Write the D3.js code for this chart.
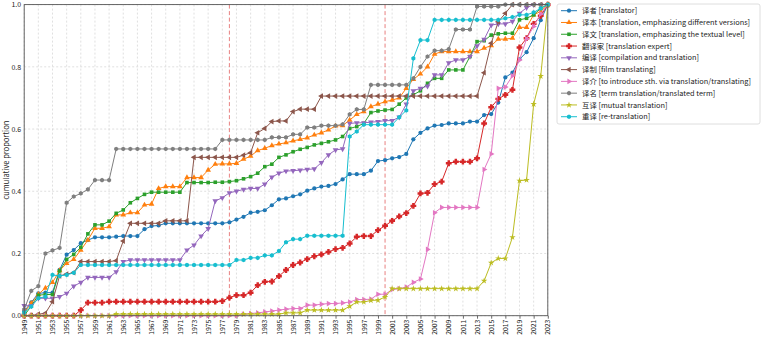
<!DOCTYPE html>
<html>
<head>
<meta charset="utf-8">
<script src="https://cdn.jsdelivr.net/npm/d3@7"></script>
<style>
  body { margin: 0; background: #fff; }
  text { font-family: "Noto Sans CJK SC", "Noto Sans", sans-serif; }
</style>
</head>
<body>
<div id="chart"></div>
<script>
// years on the x axis
var years = d3.range(1949, 2024);

var labels = [
  "译者 [translator]",
  "译本 [translation, emphasizing different versions]",
  "译文 [translation, emphasizing the textual level]",
  "翻译家 [translation expert]",
  "编译 [compilation and translation]",
  "译制 [film translating]",
  "译介 [to introduce sth. via translation/translating]",
  "译名 [term translation/translated term]",
  "互译 [mutual translation]",
  "重译 [re-translation]"
];

var colors = ["#1f77b4", "#ff7f0e", "#2ca02c", "#d62728", "#9467bd",
  "#8c564b", "#e377c2", "#7f7f7f", "#bcbd22", "#17becf"];

var markers = ["circle", "up", "square", "plus", "down", "left", "right", "hex", "star", "hex"];

// cumulative proportion, 1949 .. 2023
var yizhe = [0.014, 0.043, 0.072, 0.074, 0.074, 0.147, 0.196, 0.211, 0.233, 0.243,
  0.252, 0.252, 0.252, 0.254, 0.256, 0.256, 0.256, 0.278, 0.288, 0.29,
  0.297, 0.297, 0.297, 0.297, 0.297, 0.297, 0.297, 0.297, 0.297, 0.30,
  0.309, 0.318, 0.331, 0.334, 0.339, 0.355, 0.374, 0.377, 0.384, 0.39,
  0.402, 0.409, 0.415, 0.417, 0.423, 0.438, 0.455, 0.455, 0.455, 0.466,
  0.497, 0.50, 0.506, 0.51, 0.52, 0.567, 0.588, 0.602, 0.611, 0.613,
  0.618, 0.618, 0.618, 0.624, 0.624, 0.645, 0.648, 0.685, 0.766, 0.781,
  0.824, 0.847, 0.892, 0.95, 1.0];

var yiben = [0.01, 0.04, 0.069, 0.089, 0.107, 0.145, 0.168, 0.181, 0.211, 0.243,
  0.281, 0.281, 0.286, 0.324, 0.324, 0.331, 0.331, 0.356, 0.359, 0.409,
  0.415, 0.415, 0.415, 0.444, 0.444, 0.444, 0.468, 0.487, 0.488, 0.488,
  0.49, 0.503, 0.513, 0.531, 0.538, 0.547, 0.552, 0.556, 0.562, 0.567,
  0.572, 0.581, 0.588, 0.597, 0.61, 0.611, 0.629, 0.647, 0.656, 0.672,
  0.68, 0.688, 0.693, 0.70, 0.731, 0.76, 0.777, 0.80, 0.841, 0.849,
  0.849, 0.849, 0.849, 0.849, 0.849, 0.86, 0.868, 0.889, 0.889, 0.892,
  0.927, 0.927, 0.967, 0.978, 1.0];

var yiwen = [0.0, 0.031, 0.066, 0.068, 0.068, 0.144, 0.181, 0.197, 0.22, 0.263,
  0.292, 0.292, 0.304, 0.329, 0.34, 0.363, 0.377, 0.39, 0.397, 0.397,
  0.397, 0.397, 0.397, 0.428, 0.428, 0.428, 0.428, 0.429, 0.429, 0.431,
  0.434, 0.44, 0.447, 0.458, 0.479, 0.487, 0.509, 0.517, 0.527, 0.535,
  0.541, 0.549, 0.554, 0.559, 0.565, 0.576, 0.602, 0.608, 0.618, 0.653,
  0.658, 0.661, 0.663, 0.68, 0.70, 0.71, 0.723, 0.747, 0.763, 0.763,
  0.79, 0.79, 0.79, 0.833, 0.881, 0.884, 0.902, 0.906, 0.908, 0.908,
  0.951, 0.956, 0.967, 0.988, 1.0];

var fanyijia = [0, 0, 0, 0, 0, 0, 0, 0, 0.018, 0.042,
  0.042, 0.042, 0.045, 0.045, 0.045, 0.045, 0.045, 0.045, 0.045, 0.045,
  0.045, 0.045, 0.045, 0.045, 0.045, 0.045, 0.045, 0.045, 0.047, 0.058,
  0.066, 0.066, 0.074, 0.098, 0.109, 0.11, 0.127, 0.147, 0.163, 0.171,
  0.182, 0.191, 0.197, 0.205, 0.214, 0.218, 0.232, 0.254, 0.256, 0.256,
  0.275, 0.289, 0.305, 0.319, 0.33, 0.353, 0.393, 0.395, 0.423, 0.431,
  0.49, 0.495, 0.495, 0.495, 0.506, 0.618, 0.67, 0.697, 0.71, 0.726,
  0.862, 0.892, 0.938, 0.964, 1.0];

var bianyi = [0.032, 0.032, 0.056, 0.056, 0.056, 0.061, 0.072, 0.095, 0.107, 0.123,
  0.123, 0.123, 0.123, 0.141, 0.174, 0.179, 0.179, 0.179, 0.179, 0.179,
  0.179, 0.179, 0.179, 0.211, 0.227, 0.256, 0.28, 0.369, 0.379, 0.395,
  0.40, 0.406, 0.409, 0.409, 0.423, 0.445, 0.458, 0.465, 0.466, 0.468,
  0.47, 0.472, 0.492, 0.517, 0.533, 0.536, 0.618, 0.62, 0.62, 0.622,
  0.624, 0.627, 0.627, 0.638, 0.68, 0.723, 0.731, 0.738, 0.774, 0.774,
  0.813, 0.822, 0.822, 0.833, 0.867, 0.888, 0.934, 0.938, 0.938, 0.946,
  0.972, 0.99, 1.0, 1.0, 1.0];

var yizhi = [0, 0, 0.005, 0.008, 0.045, 0.128, 0.134, 0.138, 0.174, 0.174,
  0.174, 0.174, 0.174, 0.177, 0.24, 0.297, 0.297, 0.297, 0.297, 0.297,
  0.305, 0.305, 0.305, 0.305, 0.509, 0.509, 0.509, 0.509, 0.509, 0.509,
  0.509, 0.516, 0.524, 0.588, 0.602, 0.624, 0.626, 0.626, 0.656, 0.664,
  0.664, 0.664, 0.706, 0.706, 0.706, 0.706, 0.706, 0.706, 0.706, 0.706,
  0.706, 0.706, 0.706, 0.706, 0.706, 0.706, 0.706, 0.706, 0.706, 0.706,
  0.706, 0.706, 0.706, 0.706, 0.706, 0.781, 0.876, 0.945, 0.972, 1.0,
  1.0, 1.0, 1.0, 1.0, 1.0];

var yijie = [0, 0, 0, 0, 0, 0, 0, 0, 0, 0,
  0, 0, 0, 0, 0, 0, 0, 0, 0, 0,
  0, 0, 0, 0, 0, 0, 0, 0, 0, 0,
  0, 0.005, 0.007, 0.009, 0.012, 0.015, 0.018, 0.021, 0.023, 0.023,
  0.034, 0.034, 0.037, 0.039, 0.039, 0.041, 0.044, 0.052, 0.052, 0.053,
  0.069, 0.069, 0.084, 0.087, 0.092, 0.107, 0.118, 0.213, 0.331, 0.348,
  0.348, 0.348, 0.348, 0.348, 0.348, 0.47, 0.52, 0.731, 0.735, 0.771,
  0.822, 0.89, 0.93, 0.97, 1.0];

var yiming = [0.02, 0.08, 0.095, 0.20, 0.21, 0.218, 0.363, 0.383, 0.393, 0.406,
  0.436, 0.436, 0.436, 0.536, 0.536, 0.536, 0.536, 0.536, 0.536, 0.536,
  0.536, 0.536, 0.536, 0.536, 0.536, 0.536, 0.536, 0.536, 0.565, 0.565,
  0.565, 0.565, 0.565, 0.565, 0.565, 0.573, 0.573, 0.573, 0.583, 0.583,
  0.605, 0.605, 0.611, 0.611, 0.611, 0.615, 0.647, 0.663, 0.663, 0.742,
  0.742, 0.742, 0.742, 0.742, 0.742, 0.763, 0.80, 0.833, 0.852, 0.852,
  0.857, 0.92, 0.92, 0.92, 0.994, 0.994, 0.994, 0.994, 1.0, 1.0,
  1.0, 1.0, 1.0, 1.0, 1.0];

var huyi = [0, 0, 0, 0, 0, 0, 0, 0, 0, 0,
  0, 0, 0, 0.005, 0.005, 0.005, 0.005, 0.005, 0.005, 0.005,
  0.005, 0.005, 0.005, 0.005, 0.005, 0.005, 0.005, 0.005, 0.005, 0.005,
  0.005, 0.005, 0.005, 0.005, 0.005, 0.005, 0.005, 0.009, 0.009, 0.009,
  0.018, 0.018, 0.018, 0.018, 0.018, 0.018, 0.03, 0.044, 0.044, 0.049,
  0.05, 0.06, 0.087, 0.087, 0.087, 0.087, 0.087, 0.087, 0.087, 0.087,
  0.087, 0.087, 0.087, 0.087, 0.087, 0.112, 0.17, 0.184, 0.184, 0.252,
  0.434, 0.436, 0.68, 0.77, 1.0];

var chongyi = [0.01, 0.029, 0.056, 0.061, 0.131, 0.128, 0.131, 0.138, 0.163, 0.163,
  0.163, 0.163, 0.163, 0.163, 0.163, 0.163, 0.163, 0.163, 0.163, 0.163,
  0.163, 0.163, 0.163, 0.163, 0.163, 0.163, 0.163, 0.163, 0.163, 0.163,
  0.179, 0.179, 0.186, 0.186, 0.194, 0.194, 0.208, 0.236, 0.246, 0.246,
  0.257, 0.257, 0.257, 0.257, 0.257, 0.257, 0.576, 0.592, 0.614, 0.614,
  0.614, 0.614, 0.614, 0.638, 0.66, 0.827, 0.886, 0.886, 0.951, 0.951,
  0.951, 0.951, 0.951, 0.951, 0.951, 0.951, 0.951, 0.951, 0.956, 0.96,
  0.967, 0.967, 0.975, 0.988, 1.0];

var seriesValues = [yizhe, yiben, yiwen, fanyijia, bianyi, yizhi, yijie, yiming, huyi, chongyi];

// dashed reference years
var markYears = [1978, 2000];

var width = 761, height = 337;
var pLeft = 24.2, pRight = 547.8, pTop = 4.6, pBottom = 315.7;

var svg = d3.select('#chart').append('svg')
  .attr('width', width)
  .attr('height', height);

var x = d3.scaleLinear().domain([1949, 2023]).range([pLeft, pRight]);
var y = d3.scaleLinear().domain([0, 1]).range([pBottom, pTop]);

var tickYears = d3.range(1949, 2024, 2);
var yTicks = [0, 0.2, 0.4, 0.6, 0.8, 1.0];

// grid
svg.append('g').selectAll('line').data(tickYears).enter().append('line')
  .attr('x1', function (d) { return x(d); })
  .attr('x2', function (d) { return x(d); })
  .attr('y1', pTop).attr('y2', pBottom)
  .attr('stroke', '#d2d2d2').attr('stroke-width', 0.7)
  .attr('stroke-dasharray', '2,2');

svg.append('g').selectAll('line').data(yTicks).enter().append('line')
  .attr('x1', pLeft).attr('x2', pRight)
  .attr('y1', function (d) { return y(d); })
  .attr('y2', function (d) { return y(d); })
  .attr('stroke', '#d2d2d2').attr('stroke-width', 0.7)
  .attr('stroke-dasharray', '2,2');

// reference lines
svg.append('g').selectAll('line').data(markYears).enter().append('line')
  .attr('x1', function (d) { return x(d); })
  .attr('x2', function (d) { return x(d); })
  .attr('y1', pTop).attr('y2', pBottom)
  .attr('stroke', '#e57373').attr('stroke-width', 0.9)
  .attr('stroke-dasharray', '4,2.5');

// axes
var xAxis = svg.append('g')
  .attr('transform', 'translate(0,' + pBottom + ')')
  .call(d3.axisBottom(x).tickValues(tickYears).tickFormat(d3.format('d')).tickSize(3));
xAxis.selectAll('text')
  .attr('transform', 'rotate(-90)')
  .attr('text-anchor', 'end')
  .attr('x', -4).attr('y', 0).attr('dy', '0.32em')
  .style('font-size', '6.8px').attr('fill', '#222');

var yAxis = svg.append('g')
  .attr('transform', 'translate(' + pLeft + ',0)')
  .call(d3.axisLeft(y).tickValues(yTicks).tickFormat(d3.format('.1f')).tickSize(0));
yAxis.selectAll('text').style('font-size', '7px').attr('x', -3).attr('fill', '#222');
svg.selectAll('.domain').remove();
svg.selectAll('.tick line').attr('stroke', '#444').attr('stroke-width', 0.8);

svg.append('text')
  .attr('transform', 'translate(9,' + ((pTop + pBottom) / 2) + ') rotate(-90)')
  .attr('text-anchor', 'middle')
  .style('font-size', '7.5px').attr('fill', '#222')
  .text('cumulative proportion');

// marker shapes
var hexagon = {
  draw: function (ctx, size) {
    var r = Math.sqrt(size / 2.598);
    for (var i = 0; i < 6; i++) {
      var a = Math.PI / 3 * i + Math.PI / 6;
      if (i === 0) ctx.moveTo(r * Math.cos(a), r * Math.sin(a));
      else ctx.lineTo(r * Math.cos(a), r * Math.sin(a));
    }
    ctx.closePath();
  }
};
var plusFilled = {
  draw: function (ctx, size) {
    var r = Math.sqrt(size) * 0.62, w = r * 0.42;
    ctx.moveTo(-w, -r); ctx.lineTo(w, -r); ctx.lineTo(w, -w); ctx.lineTo(r, -w);
    ctx.lineTo(r, w); ctx.lineTo(w, w); ctx.lineTo(w, r); ctx.lineTo(-w, r);
    ctx.lineTo(-w, w); ctx.lineTo(-r, w); ctx.lineTo(-r, -w); ctx.lineTo(-w, -w);
    ctx.closePath();
  }
};
var shapes = {
  circle: [d3.symbolCircle, 0, 14],
  up: [d3.symbolTriangle, 0, 14],
  square: [d3.symbolSquare, 0, 13],
  plus: [plusFilled, 0, 22],
  down: [d3.symbolTriangle, 180, 14],
  left: [d3.symbolTriangle, -90, 14],
  right: [d3.symbolTriangle, 90, 14],
  hex: [hexagon, 0, 14],
  star: [d3.symbolStar, 0, 13]
};

function drawMarker(g, kind, color, px, py) {
  var s = shapes[kind];
  g.append('path')
    .attr('d', d3.symbol().type(s[0]).size(s[2])())
    .attr('transform', 'translate(' + px + ',' + py + ') rotate(' + s[1] + ')')
    .attr('fill', color);
}

var line = d3.line()
  .x(function (d, i) { return x(years[i]); })
  .y(function (d) { return y(d); });

var plot = svg.append('g');
seriesValues.forEach(function (vals, k) {
  var g = plot.append('g');
  g.append('path')
    .attr('d', line(vals))
    .attr('fill', 'none')
    .attr('stroke', colors[k])
    .attr('stroke-width', 1);
  vals.forEach(function (v, i) {
    drawMarker(g, markers[k], colors[k], x(years[i]), y(v));
  });
});

// frame
svg.append('rect')
  .attr('x', pLeft).attr('y', pTop)
  .attr('width', pRight - pLeft).attr('height', pBottom - pTop)
  .attr('fill', 'none').attr('stroke', '#555').attr('stroke-width', 0.9);

// legend
var lg = svg.append('g');
lg.append('rect')
  .attr('x', 557).attr('y', 4).attr('width', 203).attr('height', 120)
  .attr('rx', 2)
  .attr('fill', '#fff').attr('stroke', '#d5d5d5').attr('stroke-width', 0.8);
labels.forEach(function (name, k) {
  var ly = 10.7 + k * 11.78;
  lg.append('line')
    .attr('x1', 561).attr('x2', 577)
    .attr('y1', ly).attr('y2', ly)
    .attr('stroke', colors[k]).attr('stroke-width', 1);
  drawMarker(lg, markers[k], colors[k], 569, ly);
  lg.append('text')
    .attr('x', 582).attr('y', ly).attr('dy', '0.35em')
    .style('font-size', '7.4px').attr('fill', '#222')
    .text(name);
});
</script>
</body>
</html>
